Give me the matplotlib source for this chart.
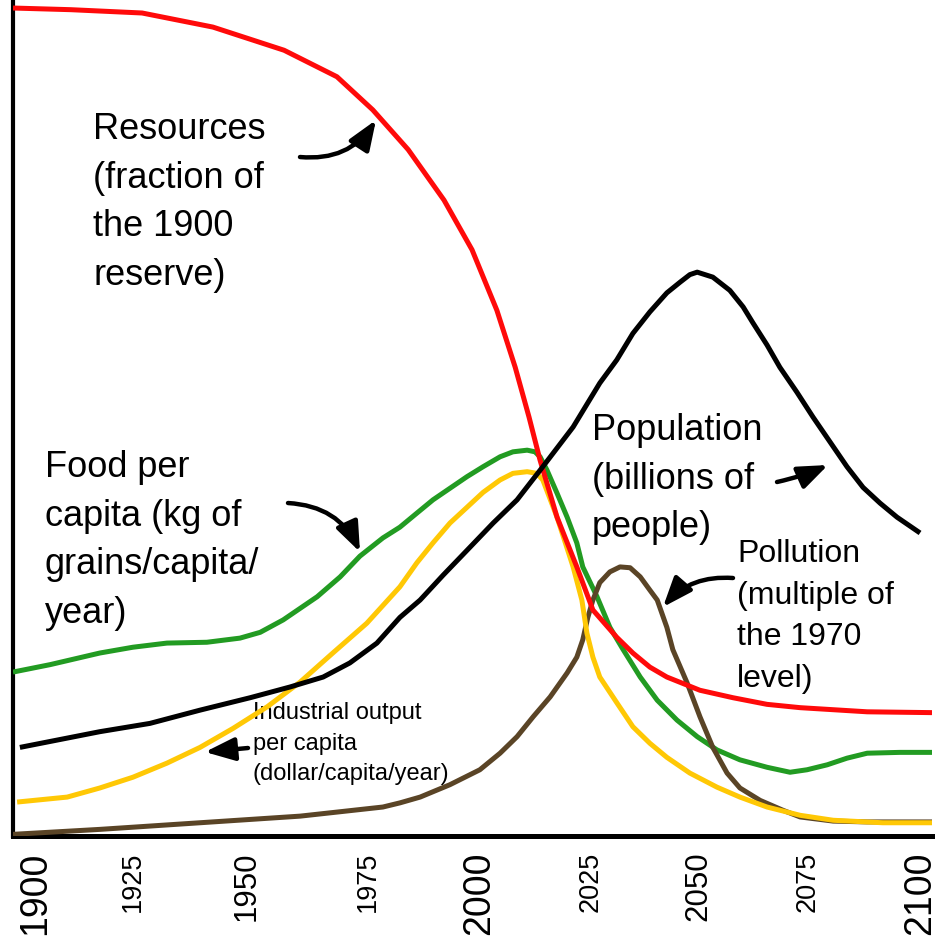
import matplotlib
matplotlib.use("Agg")
import matplotlib.pyplot as plt
from matplotlib.patches import FancyArrowPatch
from matplotlib.transforms import ScaledTranslation

plt.rcParams['font.family'] = ['Liberation Sans', 'DejaVu Sans']

# ---------------- data (arbitrary vertical units) ----------------
res_years = [1900, 1912.6, 1928.1, 1943.5, 1959.0, 1970.5, 1978.3, 1986.0, 1993.8, 1999.9,
             2005.3, 2009.3, 2012.3, 2014.7, 2018.4, 2022.7, 2026.2, 2031.4, 2034.9, 2038.6,
             2042.3, 2049.5, 2056.7, 2064.1, 2071.3, 2085.9, 2100]
res_vals = [1.000, 0.998, 0.994, 0.977, 0.949, 0.917, 0.877, 0.829, 0.768, 0.708,
            0.635, 0.566, 0.506, 0.454, 0.385, 0.325, 0.273, 0.240, 0.221, 0.204,
            0.192, 0.176, 0.167, 0.159, 0.155, 0.150, 0.149]

pop_years = [1901.5, 1918.9, 1929.8, 1940.7, 1951.6, 1960.3, 1967.5, 1973.3, 1979.2, 1984.2,
             1988.6, 1993.6, 1998.8, 2004.5, 2009.7, 2015.3, 2021.9, 2027.7, 2031.4, 2034.9,
             2038.6, 2042.3, 2045.2, 2047.3, 2048.9, 2052.3, 2056.0, 2058.9, 2061.0, 2064.1,
             2066.9, 2070.6, 2074.1, 2077.8, 2081.5, 2085.0, 2088.7, 2092.4, 2097.4]
pop_vals = [0.107, 0.126, 0.136, 0.152, 0.167, 0.180, 0.192, 0.209, 0.233, 0.264,
            0.285, 0.315, 0.345, 0.378, 0.406, 0.446, 0.494, 0.547, 0.575, 0.607,
            0.633, 0.656, 0.669, 0.678, 0.681, 0.675, 0.659, 0.639, 0.620, 0.593,
            0.566, 0.536, 0.506, 0.476, 0.446, 0.421, 0.402, 0.385, 0.366]

food_years = [1900, 1908.1, 1918.9, 1926.1, 1933.5, 1942.2, 1949.4, 1953.8, 1958.8, 1966.2,
              1971.2, 1975.5, 1980.5, 1984.2, 1987.9, 1991.4, 1995.1, 1998.8, 2002.3, 2006.0,
              2008.8, 2011.9, 2013.6, 2014.7, 2016.2, 2018.4, 2020.6, 2022.7, 2024.0, 2027.1,
              2029.9, 2032.8, 2036.5, 2040.2, 2044.5, 2048.9, 2053.2, 2058.2, 2064.1, 2069.1,
              2072.8, 2077.2, 2081.5, 2085.9, 2093.0, 2100]
food_vals = [0.198, 0.207, 0.221, 0.228, 0.233, 0.234, 0.239, 0.246, 0.261, 0.289,
             0.313, 0.338, 0.360, 0.373, 0.390, 0.406, 0.420, 0.434, 0.446, 0.458,
             0.464, 0.466, 0.464, 0.458, 0.442, 0.414, 0.385, 0.354, 0.325, 0.289,
             0.252, 0.225, 0.192, 0.164, 0.140, 0.120, 0.104, 0.092, 0.083, 0.077,
             0.080, 0.086, 0.094, 0.100, 0.101, 0.101]

ind_years = [1900.9, 1911.8, 1918.9, 1926.1, 1933.5, 1940.7, 1947.9, 1955.3, 1962.5, 1969.6,
             1977.0, 1984.2, 1987.9, 1991.4, 1995.1, 1998.8, 2002.3, 2006.0, 2008.8, 2011.9,
             2014.0, 2015.3, 2018.4, 2021.9, 2023.8, 2024.9, 2026.2, 2027.7, 2031.4, 2034.9,
             2038.6, 2042.3, 2047.3, 2053.2, 2058.2, 2064.1, 2071.3, 2078.5, 2089.3, 2100]
ind_vals = [0.041, 0.047, 0.058, 0.071, 0.088, 0.107, 0.130, 0.156, 0.186, 0.221,
            0.257, 0.301, 0.330, 0.354, 0.378, 0.397, 0.415, 0.430, 0.438, 0.440,
            0.438, 0.430, 0.385, 0.325, 0.285, 0.245, 0.216, 0.192, 0.161, 0.132,
            0.112, 0.095, 0.076, 0.059, 0.047, 0.035, 0.025, 0.019, 0.016, 0.016]

pol_years = [1900, 1918.9, 1940.7, 1962.5, 1980.5, 1984.2, 1988.6, 1995.1, 2001.6, 2006.0,
             2009.7, 2013.2, 2016.9, 2020.6, 2022.7, 2024.0, 2025.1, 2026.2, 2027.7, 2029.9,
             2032.1, 2034.3, 2036.5, 2038.6, 2040.2, 2042.3, 2043.6, 2046.7, 2049.5, 2052.3,
             2055.4, 2058.2, 2062.6, 2067.6, 2071.3, 2078.5, 2085.9, 2100]
pol_vals = [0.002, 0.008, 0.016, 0.024, 0.035, 0.040, 0.047, 0.062, 0.080, 0.100,
            0.120, 0.144, 0.168, 0.197, 0.216, 0.237, 0.264, 0.285, 0.306, 0.319,
            0.325, 0.324, 0.313, 0.297, 0.285, 0.252, 0.225, 0.185, 0.144, 0.107,
            0.076, 0.058, 0.043, 0.031, 0.023, 0.018, 0.017, 0.017]

tick_years = [1900, 1925, 1950, 1975, 2000, 2025, 2050, 2075, 2100]
tick_labels = ['1900', '1925', '1950', '1975', '2000', '2025', '2050', '2075', '2100']

# ---------------- figure ----------------
W, H = 939, 943
fig = plt.figure(figsize=(W / 100, H / 100), dpi=100)
ax = fig.add_axes([13 / W, (H - 836) / H, (932 - 13) / W, 836 / H])
ax.set_xlim(1900, 2100)
ax.set_ylim(0, 1.0097)

lw = 3.6
kw = dict(lw=lw, solid_capstyle='butt', solid_joinstyle='round')
ax.plot(food_years, food_vals, color='#229b22', zorder=3, **kw)
ax.plot(pol_years, pol_vals, color='#5a4426', zorder=4, **kw)
ax.plot(ind_years, ind_vals, color='#ffc805', zorder=5, **kw)
ax.plot(res_years, res_vals, color='#ff0a0a', zorder=6, **kw)
ax.plot(pop_years, pop_vals, color='black', zorder=7, **kw)

for s in ['top', 'right']:
    ax.spines[s].set_visible(False)
ax.spines['left'].set_linewidth(3.0)
ax.spines['bottom'].set_linewidth(3.6)
ax.set_yticks([])
ax.set_xticks(tick_years)
ax.set_xticklabels(tick_labels, rotation=90, va='top', ha='center')
ax.tick_params(axis='x', length=0, pad=11)

label_sizes = {'1900': 27, '2000': 27, '2100': 27, '1950': 22.5, '2050': 22.5}
label_shift_px = {'1900': 22, '1925': 5, '1950': 4, '1975': 10, '2000': 7,
                  '2025': 3, '2050': -4, '2075': -9, '2100': -12}
for lab in ax.get_xticklabels():
    t = lab.get_text()
    lab.set_fontsize(label_sizes.get(t, 19.5))
    lab.set_transform(lab.get_transform() +
                      ScaledTranslation(label_shift_px[t] / 100, 0, fig.dpi_scale_trans))


def px(x, y):
    return 1900 + (x - 13) * 200 / 919, (836 - y) / 828


big = 26
ls = 1.5
ax.text(*px(93, 112), "Resources\n(fraction of\nthe 1900\nreserve)", fontsize=big, va='top', ha='left', linespacing=ls)
ax.text(*px(45, 450), "Food per\ncapita (kg of\ngrains/capita/\nyear)", fontsize=big, va='top', ha='left', linespacing=ls)
ax.text(*px(592, 413), "Population\n(billions of\npeople)", fontsize=big, va='top', ha='left', linespacing=ls)
ax.text(*px(737, 539), "Pollution\n(multiple of\nthe 1970\nlevel)", fontsize=23, va='top', ha='left', linespacing=1.5)
ax.text(*px(253, 702), "Industrial output\nper capita\n(dollar/capita/year)", fontsize=17, va='top', ha='left', linespacing=1.5)


def arrow(p0, p1, rad, scale=20):
    a = FancyArrowPatch(px(*p0), px(*p1), connectionstyle=f"arc3,rad={rad}",
                        arrowstyle="-|>,head_length=0.9,head_width=0.35",
                        mutation_scale=scale, lw=3.2, color='black', zorder=8,
                        shrinkA=0, shrinkB=0)
    ax.add_patch(a)


arrow((300, 157), (376, 120), 0.3)
arrow((288, 503), (360, 552), -0.3)
arrow((777, 482), (828, 465), 0.05)
arrow((733, 578), (663, 607), 0.25)
arrow((248, 748), (205, 752), 0.0)

fig.savefig('out.png', dpi=100)
